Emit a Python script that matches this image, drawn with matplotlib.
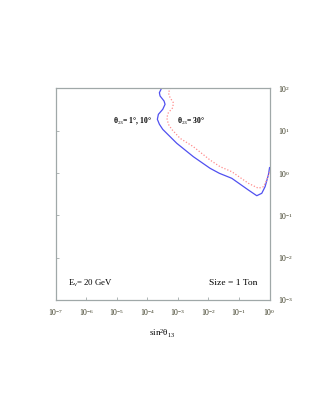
import matplotlib
matplotlib.use("Agg")
import matplotlib.pyplot as plt
from matplotlib.ticker import FixedLocator, NullLocator

plt.rcParams['font.family'] = ['Liberation Serif', 'DejaVu Serif']
plt.rcParams['mathtext.fontset'] = 'custom'
plt.rcParams['mathtext.rm'] = 'Liberation Serif'
plt.rcParams['mathtext.it'] = 'Liberation Serif'
plt.rcParams['mathtext.bf'] = 'Liberation Serif:bold'

# theta23 = 1, 10 deg (solid blue)
blue_x = [2.98e-4, 2.49e-4, 2.62e-4, 3.54e-4, 3.82e-4, 3.21e-4, 2.31e-4, 2.14e-4,
          2.49e-4, 3.21e-4, 9.23e-4, 3.22e-3, 1.13e-2, 2.28e-2, 5.81e-2, 0.203,
          0.382, 0.556, 0.713, 0.914, 1.0]
blue_y = [104, 79.6, 66.5, 50.6, 42.3, 32.2, 24.5, 18.7,
          14.3, 10.8, 5.06, 2.44, 1.30, 0.989, 0.753, 0.398,
          0.292, 0.333, 0.476, 0.902, 1.35]

# theta23 = 30 deg (dotted red)
red_x = [5.86e-4, 4.90e-4, 5.57e-4, 7.13e-4, 6.82e-4, 4.90e-4, 4.35e-4, 4.90e-4,
         6.32e-4, 1.18e-3, 3.22e-3, 1.13e-2, 2.40e-2, 5.81e-2, 0.203, 0.431,
         0.628, 0.811, 1.0]
red_y = [104, 79.6, 60.7, 46.1, 35.2, 26.8, 20.4, 14.3,
         10.8, 6.65, 4.21, 2.04, 1.42, 1.08, 0.574, 0.438,
         0.476, 0.687, 1.08]

x_ticks = [1e-7, 1e-6, 1e-5, 1e-4, 1e-3, 1e-2, 1e-1, 1e0]
x_labels = ['10$^{-7}$', '10$^{-6}$', '10$^{-5}$', '10$^{-4}$',
            '10$^{-3}$', '10$^{-2}$', '10$^{-1}$', '10$^{0}$']
y_ticks = [1e-3, 1e-2, 1e-1, 1e0, 1e1, 1e2]
y_labels = ['10$^{-3}$', '10$^{-2}$', '10$^{-1}$', '10$^{0}$', '10$^{1}$', '10$^{2}$']

fig = plt.figure(figsize=(3.12, 4.03), dpi=100)
ax = fig.add_axes([0.178, 0.2556, 0.686, 0.5248])

ax.plot(blue_x, blue_y, color='#5050f0', lw=0.9, solid_joinstyle='round')
ax.plot(red_x, red_y, color='#ff8c8c', lw=0.9, ls=(0, (1, 1.5)))

ax.set_xscale('log')
ax.set_yscale('log')
ax.set_xlim(1e-7, 1e0)
ax.set_ylim(1e-3, 1e2)

ax.xaxis.set_major_locator(FixedLocator(x_ticks))
ax.set_xticklabels(x_labels)
ax.yaxis.set_major_locator(FixedLocator(y_ticks))
ax.set_yticklabels(y_labels)
ax.xaxis.set_minor_locator(NullLocator())
ax.yaxis.set_minor_locator(NullLocator())

ax.yaxis.tick_right()
ax.tick_params(axis='both', direction='in', length=2, width=0.5,
               color='#909898', labelsize=5.5, labelcolor='#303018', pad=5)
ax.tick_params(axis='y', left=True, right=False, pad=6)
for s in ax.spines.values():
    s.set_color('#a0a8a8')
    s.set_linewidth(0.9)

ax.set_xlabel('sin$^2$θ$_{13}$', fontsize=6.5, labelpad=7)

ax.text(0.357, 0.846, 'θ$_{23}$= 1°, 10°', transform=ax.transAxes,
        fontsize=5.5, fontweight='bold', ha='center', va='center')
ax.text(0.633, 0.846, 'θ$_{23}$= 30°', transform=ax.transAxes,
        fontsize=5.5, fontweight='bold', ha='center', va='center')
ax.text(0.06, 0.08, 'E$_{ν}$= 20 GeV', transform=ax.transAxes,
        fontsize=6.3, ha='left', va='center')
ax.text(0.942, 0.08, 'Size = 1 Ton', transform=ax.transAxes,
        fontsize=6.8, ha='right', va='center')

fig.savefig('out.png', dpi=100)
